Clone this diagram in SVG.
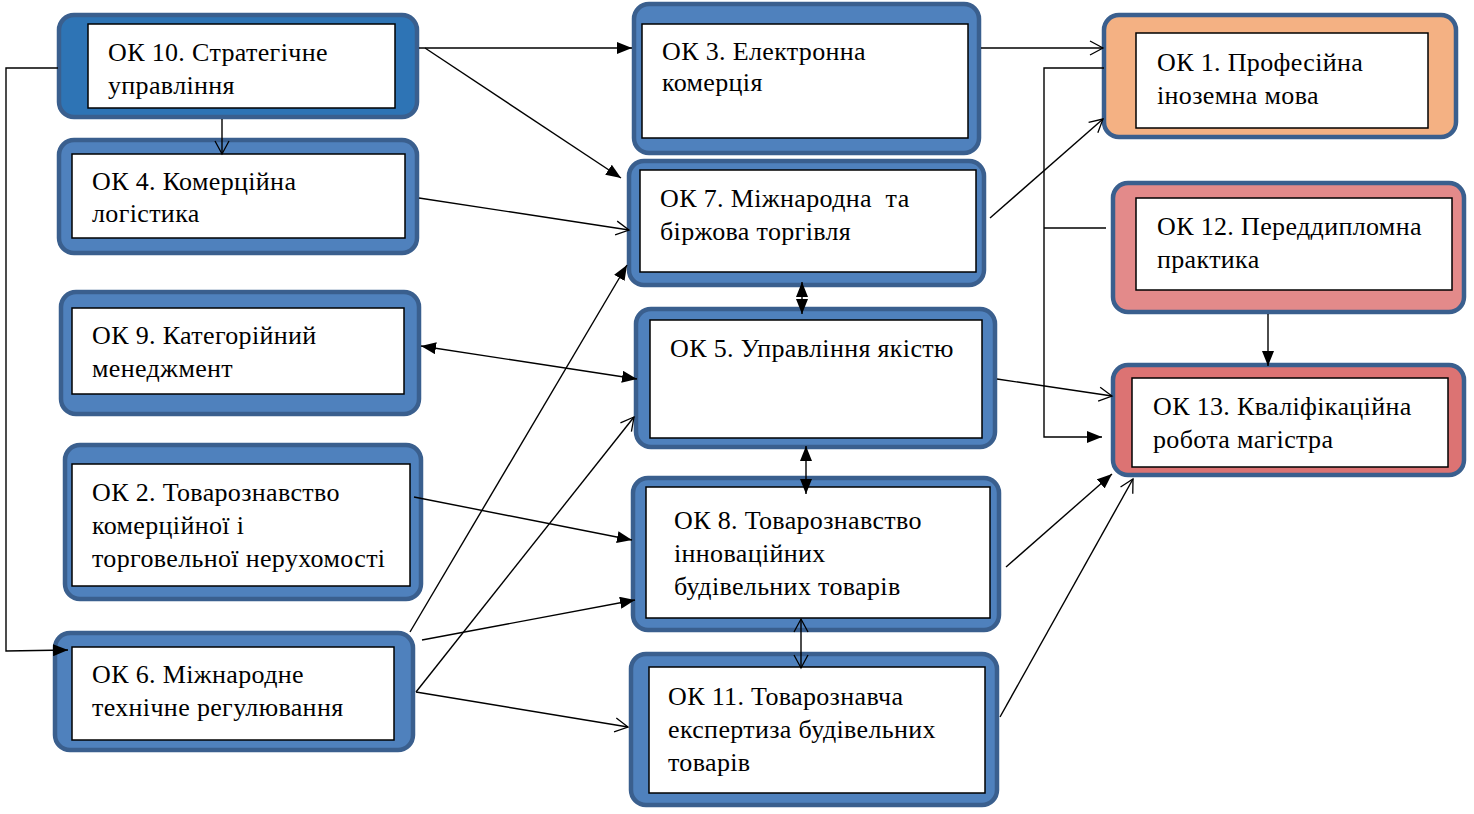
<svg xmlns="http://www.w3.org/2000/svg" width="1474" height="814" viewBox="0 0 1474 814">
<style>
.o{stroke:#3a5f8e;stroke-width:4.5;fill:#4f81bd}
.i{fill:#fff;stroke:#000;stroke-width:1.5}
text{font-family:"Liberation Serif","Times New Roman",serif;font-size:26px;letter-spacing:0.35px;fill:#000}
.c line,.c path{stroke:#000;stroke-width:1.4;fill:none}
</style>
<defs>
<marker id="f" markerUnits="userSpaceOnUse" markerWidth="16" markerHeight="12" refX="15" refY="6" orient="auto-start-reverse"><path d="M0,0 L15,6 L0,12 z" fill="#000"/></marker>
<marker id="v" markerUnits="userSpaceOnUse" markerWidth="16" markerHeight="16" refX="14" refY="8" orient="auto-start-reverse"><path d="M1,1 L14,8 L1,15" fill="none" stroke="#000" stroke-width="1.3"/></marker>
</defs>
<rect width="1474" height="814" fill="#fff"/>
<g id="ok10"><rect class="o" x="59" y="15" width="358" height="102" rx="15" style="fill:#2e74b5"/><rect class="i" x="88" y="24" width="307" height="84"/><text x="108" y="61">ОК 10. Стратегічне</text><text x="108" y="94">управління</text></g>
<g id="ok4"><rect class="o" x="59" y="140" width="358" height="113" rx="15"/><rect class="i" x="72" y="154" width="333" height="84"/><text x="92" y="190">ОК 4. Комерційна</text><text x="92" y="222">логістика</text></g>
<g id="ok9"><rect class="o" x="61" y="292" width="358" height="122" rx="15"/><rect class="i" x="72" y="308" width="332" height="86"/><text x="92" y="344">ОК 9. Категорійний</text><text x="92" y="377">менеджмент</text></g>
<g id="ok2"><rect class="o" x="65" y="445" width="356" height="154" rx="15"/><rect class="i" x="72" y="464" width="338" height="122"/><text x="92" y="501">ОК 2. Товарознавство</text><text x="92" y="534">комерційної і</text><text x="92" y="567">торговельної нерухомості</text></g>
<g id="ok6"><rect class="o" x="55" y="633" width="358" height="117" rx="15"/><rect class="i" x="72" y="647" width="322" height="93"/><text x="92" y="683">ОК 6. Міжнародне</text><text x="92" y="716">технічне регулювання</text></g>
<g id="ok3"><rect class="o" x="634" y="4" width="345" height="149" rx="15"/><rect class="i" x="642" y="24" width="326" height="114"/><text x="662" y="60">ОК 3. Електронна</text><text x="662" y="91">комерція</text></g>
<g id="ok7"><rect class="o" x="629" y="161" width="355" height="124" rx="15"/><rect class="i" x="640" y="170" width="336" height="102"/><text x="660" y="207" xml:space="preserve">ОК 7. Міжнародна  та</text><text x="660" y="240">біржова торгівля</text></g>
<g id="ok5"><rect class="o" x="636" y="309" width="359" height="138" rx="15"/><rect class="i" x="650" y="320" width="332" height="118"/><text x="670" y="357">ОК 5. Управління якістю</text></g>
<g id="ok8"><rect class="o" x="633" y="478" width="366" height="152" rx="15"/><rect class="i" x="646" y="487" width="344" height="131"/><text x="674" y="529">ОК 8. Товарознавство</text><text x="674" y="562">інноваційних</text><text x="674" y="595">будівельних товарів</text></g>
<g id="ok11"><rect class="o" x="631" y="654" width="366" height="151" rx="15"/><rect class="i" x="649" y="667" width="336" height="126"/><text x="668" y="705">ОК 11. Товарознавча</text><text x="668" y="738">експертиза будівельних</text><text x="668" y="771">товарів</text></g>
<g id="ok1"><rect class="o" x="1104" y="15" width="352" height="122" rx="15" style="fill:#f4b183"/><rect class="i" x="1136" y="33" width="292" height="95"/><text x="1157" y="71">ОК 1. Професійна</text><text x="1157" y="104">іноземна мова</text></g>
<g id="ok12"><rect class="o" x="1113" y="183" width="351" height="129" rx="15" style="fill:#e38a8a"/><rect class="i" x="1136" y="198" width="316" height="92"/><text x="1157" y="235">ОК 12. Переддипломна</text><text x="1157" y="268">практика</text></g>
<g id="ok13"><rect class="o" x="1113" y="365" width="351" height="110" rx="15" style="fill:#dc7373"/><rect class="i" x="1132" y="378" width="316" height="89"/><text x="1153" y="415">ОК 13. Кваліфікаційна</text><text x="1153" y="448">робота магістра</text></g>
<g class="c" id="connectors">
<line x1="419" y1="48" x2="632" y2="48" marker-end="url(#f)"/>
<line x1="425" y1="48" x2="621" y2="178" marker-end="url(#f)"/>
<line x1="222" y1="119" x2="222" y2="154" marker-end="url(#v)"/>
<line x1="419" y1="198" x2="629" y2="230" marker-end="url(#v)"/>
<line x1="421" y1="346" x2="637" y2="379" marker-start="url(#f)" marker-end="url(#f)"/>
<line x1="414" y1="497" x2="632" y2="540" marker-end="url(#f)"/>
<line x1="410" y1="632" x2="627" y2="265" marker-end="url(#f)"/>
<line x1="422" y1="640" x2="635" y2="600" marker-end="url(#f)"/>
<line x1="416" y1="692" x2="634" y2="417" marker-end="url(#v)"/>
<line x1="416" y1="692" x2="628" y2="727" marker-end="url(#v)"/>
<line x1="802" y1="282" x2="802" y2="314" marker-start="url(#f)" marker-end="url(#f)"/>
<line x1="806" y1="446" x2="806" y2="494" marker-start="url(#f)" marker-end="url(#f)"/>
<line x1="801" y1="619" x2="801" y2="668" marker-start="url(#v)" marker-end="url(#v)"/>
<line x1="981" y1="48" x2="1103" y2="48" marker-end="url(#v)"/>
<line x1="990" y1="218" x2="1103" y2="119" marker-end="url(#v)"/>
<line x1="997" y1="379" x2="1112" y2="396" marker-end="url(#v)"/>
<line x1="1006" y1="567" x2="1112" y2="474" marker-end="url(#f)"/>
<line x1="1000" y1="717" x2="1133" y2="479" marker-end="url(#v)"/>
<line x1="1268" y1="314" x2="1268" y2="366" marker-end="url(#f)"/>
<path d="M1104,68 H1044 V437 H1102" marker-end="url(#f)"/>
<line x1="1106" y1="228" x2="1044" y2="228"/>
<path d="M58,68 H6 V651 L68,650" marker-end="url(#f)"/>
</g>
</svg>
